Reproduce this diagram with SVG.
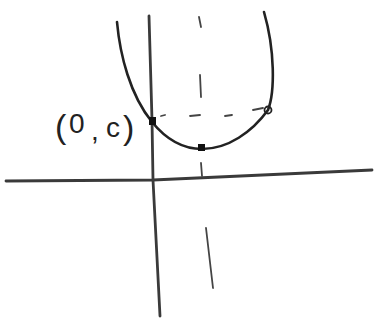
<svg xmlns="http://www.w3.org/2000/svg" width="376" height="320" viewBox="0 0 376 320">
<style>
.ln{fill:none;stroke:#222;stroke-width:2.6;stroke-linecap:round;stroke-linejoin:round}
.ax{fill:none;stroke:#3a3a3a;stroke-width:2.8;stroke-linecap:round}
.ds{fill:none;stroke:#444;stroke-width:1.8;stroke-linecap:round}
.lbl{font-family:"Liberation Sans",Arial,sans-serif;font-size:28px;fill:#222}
.par{font-size:34px}
</style>
<rect width="376" height="320" fill="#fff"/>
<g id="axes">
<path class="ax" d="M6,181 L153,180 L372,170"/>
<path class="ax" d="M149,16 L152,120 L153,180 L160,316"/>
</g>
<g id="connectors">
<path class="ds" d="M199,17 L201,27 M200,75 L201,97 M201,163 L202,176 M206,228 L213,288"/>
<path class="ds" d="M161,116 L165,115 M190,116 L200,115 M225,116 L232,115 M253,110 L263,108"/>
</g>
<g id="parabola">
<path class="ln" d="M117,22 C120,55 130,95 152,122 C165,138 182,149 202,149 C228,149 252,132 268,110 C275,92 275,50 264,12"/>
</g>
<g id="points">
<rect x="149" y="117" width="7" height="8" fill="#111"/>
<rect x="198" y="144" width="7" height="7" fill="#111"/>
<circle cx="268" cy="110" r="3.5" fill="none" stroke="#222" stroke-width="1.8"/>
</g>
<g id="label">
<text class="lbl"><tspan class="par" x="55" y="138">(</tspan><tspan x="69" y="133">0</tspan><tspan x="91" y="140">,</tspan><tspan x="106" y="137">c</tspan><tspan class="par" x="123" y="139">)</tspan></text>
</g>
</svg>
